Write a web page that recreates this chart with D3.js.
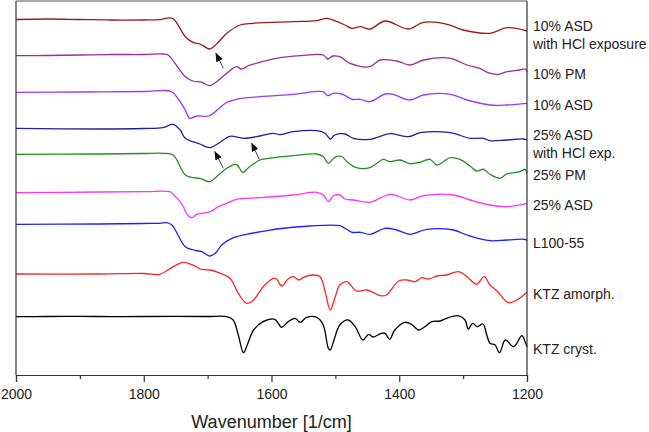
<!DOCTYPE html>
<html>
<head>
<meta charset="utf-8">
<script src="https://cdn.jsdelivr.net/npm/d3@7"></script>
<style>
  html, body { margin: 0; padding: 0; background: #fff; }
  text { font-family: "Liberation Sans", Arial, sans-serif; }
</style>
</head>
<body>
<svg id="chart" width="649" height="432"></svg>
<script>
// ---- Data: [wavenumber (1/cm), intensity (a.u., stacked with offsets)] ----
const asd10Hcl = [[2000,355.5],[1950,356],[1900,355.5],[1850,355],[1800,355],[1775,355.3],[1755,356.7],[1735,338.3],[1723,332.7],[1712,331],[1707,329.3],[1697,326],[1686,331],[1670,341.7],[1649,350],[1629,351.7],[1566,353.3],[1529,354.3],[1513,356.7],[1497,353.3],[1485,350],[1474,346.7],[1461,348.3],[1446,346],[1422,354],[1386,346],[1362,352.7],[1325,350.7],[1300,345],[1258,341.7],[1231,347.3],[1200,344]];
const pm10 = [[2000,319.3],[1950,319.5],[1900,320],[1850,320.5],[1800,320.5],[1770,321],[1762,320],[1735,298.3],[1723,294],[1709,292.7],[1697,289.3],[1686,293.3],[1670,301.7],[1655,308.3],[1647,306],[1636,309.3],[1618,312.7],[1592,316.7],[1555,319.3],[1519,320],[1512,316],[1504,319],[1493,318.3],[1477,311.7],[1446,308.3],[1430,315],[1404,314],[1383,310],[1362,315],[1320,316.7],[1294,310],[1274,306.7],[1261,302.3],[1245,300.7],[1231,303.3],[1211,305],[1203,306],[1200,303.3]];
const asd10 = [[2000,282.7],[1900,283],[1800,283.5],[1757,283.5],[1746,276],[1735,265],[1728,256.7],[1717,259],[1698,259],[1682,266.7],[1670,272.7],[1655,275.7],[1618,278.3],[1566,280.7],[1519,283.3],[1512,279.3],[1504,281.7],[1490,281],[1474,275.7],[1461,275.7],[1446,273.3],[1422,281],[1410,280.7],[1383,275],[1362,280],[1320,280.7],[1294,275],[1258,270],[1232,270],[1200,271.7]];
const asd25Hcl = [[2000,246.7],[1870,246],[1800,246.5],[1770,247.3],[1754,250.7],[1743,245],[1735,236.7],[1712,231],[1697,227.3],[1683,231.7],[1665,238.7],[1644,236.7],[1618,239],[1597,241.7],[1587,240.3],[1566,243.3],[1529,244.3],[1516,241.7],[1508,236],[1501,240],[1485,241],[1472,236.7],[1446,235.7],[1414,241.3],[1386,238.3],[1367,242.3],[1320,242.3],[1289,236.7],[1268,236.7],[1258,234.3],[1232,235],[1206,236],[1200,235]];
const pm25 = [[2000,220.7],[1870,221],[1800,221.5],[1770,221.7],[1754,220],[1735,200],[1723,197.3],[1712,196.7],[1697,193.3],[1683,200],[1670,206.7],[1655,210.5],[1645,202.7],[1636,207.3],[1618,215],[1592,217.7],[1566,219.3],[1529,221],[1519,218.3],[1511,211.7],[1501,217.7],[1490,218.5],[1482,213.3],[1467,207.3],[1446,207.3],[1425,215.7],[1415,213.3],[1399,215],[1383,211.3],[1368,212.7],[1352,215.7],[1341,210],[1320,217.3],[1305,215.7],[1289,209],[1279,204],[1268,205.7],[1258,200.7],[1242,196.7],[1232,201],[1211,203.3],[1203,205.7],[1200,201.7]];
const asd25 = [[2000,182.3],[1870,183],[1800,183.3],[1759,183.3],[1754,180.7],[1743,173.3],[1738,168.3],[1733,161.7],[1725,157.3],[1717,160.7],[1696,163.3],[1683,168.3],[1670,171.7],[1655,175.7],[1618,177.3],[1566,180],[1529,182.7],[1519,180],[1511,173.3],[1503,179.3],[1493,180],[1485,176],[1472,175],[1446,172.7],[1414,180.7],[1383,175],[1362,179.3],[1315,180],[1289,175],[1258,170],[1232,168.3],[1200,171.7]];
const l100 = [[2000,150.7],[1870,151],[1800,151.5],[1775,151.7],[1764,152.3],[1756,150],[1735,128.3],[1722,125],[1709,123.3],[1697,119],[1688,121.7],[1678,130],[1662,136.7],[1639,140.7],[1607,144.3],[1592,146],[1540,149],[1493,149.3],[1485,146.7],[1474,142.7],[1461,142.7],[1446,140.7],[1422,146.7],[1404,145],[1383,140.7],[1357,145.7],[1315,145],[1294,140],[1258,134.3],[1232,135],[1203,135.7],[1200,134.3]];
const ktzAmorph = [[2000,101],[1870,101],[1800,101.5],[1775,100.7],[1754,108.3],[1738,112.7],[1717,108],[1712,106],[1696,105],[1680,101.7],[1665,96.7],[1652,81.7],[1639,71.7],[1628,75],[1613,88.3],[1597,96.7],[1592,96],[1584,89],[1574,96],[1566,98.3],[1557,95],[1550,97.7],[1535,100],[1524,98.3],[1516,83.3],[1508,65],[1501,76.7],[1493,90],[1482,93.3],[1467,84],[1451,85],[1441,82.7],[1430,79.3],[1420,80],[1401,94],[1388,95],[1375,93.3],[1365,97.3],[1354,96],[1341,99],[1326,100],[1307,103.3],[1294,98.3],[1279,90.7],[1267,98.3],[1258,90],[1247,84],[1229,72.3],[1216,75],[1200,82.7]];
const ktzCryst = [[2000,58.3],[1950,58.5],[1900,58.7],[1850,58.3],[1800,58.5],[1700,58.5],[1670,58.3],[1660,55],[1652,40],[1644,22.3],[1638,30],[1628,45],[1613,53.3],[1595,55.7],[1584,47.7],[1574,53.3],[1563,56.7],[1555,52.7],[1545,57.7],[1529,57.7],[1519,50],[1511,26.7],[1508,25],[1503,33.3],[1493,50],[1480,55],[1469,48.3],[1457,35],[1448,40.7],[1441,38],[1428,41.7],[1422,41.7],[1415,35.7],[1407,45],[1391,52.7],[1381,50.7],[1370,45],[1362,47.3],[1349,53.3],[1336,54],[1326,56.7],[1308,59.3],[1297,55],[1292,46],[1285,51.7],[1278,48.3],[1269,51],[1263,40],[1258,31.7],[1250,30],[1243,22.3],[1234,35],[1221,28.3],[1208,39.3],[1203,33.3],[1200,28.3]];

const seriesNames = [["10% ASD","with HCl exposure"],["10% PM"],["10% ASD"],["25% ASD","with HCl exp."],["25% PM"],["25% ASD"],["L100-55"],["KTZ amorph."],["KTZ cryst."]];
const seriesData = [asd10Hcl, pm10, asd10, asd25Hcl, pm25, asd25, l100, ktzAmorph, ktzCryst];
const seriesColors = ["#9e1a1a","#9b2c9b","#9d36f7","#1f1fa3","#22901f","#ff33f5","#2020ff","#ff2424","#000000"];

const majorTicks = [2000, 1800, 1600, 1400, 1200];
const minorTicks = [1900, 1700, 1500, 1300];
const xDomain = [2000, 1200];
const yDomain = [0, 374];

// arrows: [fromWavenumber, fromValue, toWavenumber, toValue]
const arrows = [[1675.5,306.7,1687,321.7],[1675.5,206.7,1688.5,223.3],[1619,215.7,1631,231.7]];

// ---- Drawing ----
const W = 649, H = 432;
const margin = {left: 16, top: 1, right: 122, bottom: 57};
const iw = W - margin.left - margin.right;
const ih = H - margin.top - margin.bottom;

const svg = d3.select("#chart");
const g = svg.append("g").attr("transform", `translate(${margin.left},${margin.top})`);

const x = d3.scaleLinear().domain(xDomain).range([0, iw]);
const y = d3.scaleLinear().domain(yDomain).range([ih, 0]);

const defs = svg.append("defs");
defs.append("marker")
  .attr("id", "ah").attr("viewBox", "0 0 10 10")
  .attr("refX", 9).attr("refY", 5)
  .attr("markerWidth", 9).attr("markerHeight", 9)
  .attr("markerUnits", "userSpaceOnUse")
  .attr("orient", "auto")
  .append("path").attr("d", "M0,1 L10,5 L0,9 Z").attr("fill", "#111");

const line = d3.line()
  .x(d => x(d[0]))
  .y(d => y(d[1]))
  .curve(d3.curveCatmullRom.alpha(0.5));

g.selectAll("path.trace")
  .data(seriesData)
  .join("path")
  .attr("class", "trace")
  .attr("fill", "none")
  .attr("stroke", (d, i) => seriesColors[i])
  .attr("stroke-width", 1.3)
  .attr("stroke-linejoin", "round")
  .attr("d", line);

// arrows
g.selectAll("line.arrow")
  .data(arrows)
  .join("line")
  .attr("class", "arrow")
  .attr("x1", d => x(d[0])).attr("y1", d => y(d[1]))
  .attr("x2", d => x(d[2])).attr("y2", d => y(d[3]))
  .attr("stroke", "#444").attr("stroke-width", 1)
  .attr("marker-end", "url(#ah)");

// frame (top/right)
g.append("line").attr("x1", 0).attr("x2", iw).attr("y1", 0).attr("y2", 0)
  .attr("stroke", "#555").attr("stroke-width", 1);
g.append("line").attr("x1", iw).attr("x2", iw).attr("y1", 0).attr("y2", ih)
  .attr("stroke", "#333").attr("stroke-width", 1.2);
// left axis line
g.append("line").attr("x1", 0).attr("x2", 0).attr("y1", 0).attr("y2", ih)
  .attr("stroke", "#333").attr("stroke-width", 1.2);

// bottom axis
const xAxis = d3.axisBottom(x).tickValues(majorTicks).tickSize(7).tickPadding(7)
  .tickFormat(d3.format("d"));
const ax = g.append("g").attr("transform", `translate(0,${ih})`).call(xAxis);
ax.select(".domain").attr("stroke", "#333").attr("stroke-width", 1.2);
ax.selectAll(".tick line").attr("stroke", "#333").attr("stroke-width", 1.2);
ax.selectAll(".tick text").attr("font-size", 14).attr("fill", "#222")
  .style("font-family", "'Liberation Sans', Arial, sans-serif");

const xMinor = d3.axisBottom(x).tickValues(minorTicks).tickSize(4).tickFormat("");
const axm = g.append("g").attr("transform", `translate(0,${ih})`).call(xMinor);
axm.select(".domain").remove();
axm.selectAll(".tick line").attr("stroke", "#333").attr("stroke-width", 1.2);

// axis title
g.append("text")
  .attr("x", iw / 2).attr("y", ih + 53)
  .attr("text-anchor", "middle")
  .attr("font-size", 18).attr("fill", "#222")
  .text("Wavenumber [1/cm]");

// series labels
seriesData.forEach((d, i) => {
  const lastY = y(d[d.length - 1][1]);
  const names = seriesNames[i];
  const firstCenter = names.length > 1 ? lastY - 5 : lastY + 2;
  const t = g.append("text")
    .attr("x", iw + 6)
    .attr("font-size", 14).attr("fill", "#222");
  names.forEach((n, k) => {
    t.append("tspan").attr("x", iw + 6)
      .attr("y", firstCenter + k * 18.4 + 5)
      .text(n);
  });
});
</script>
</body>
</html>
